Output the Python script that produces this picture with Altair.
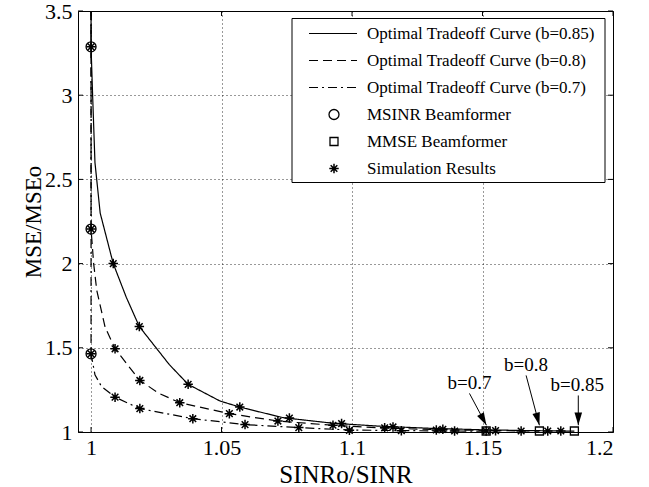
import math
import altair as alt
import pandas as pd

# ---------------- data ----------------
# Optimal tradeoff curves
c085_x = [1.0, 1.0, 1.0006, 1.0015, 1.0035, 1.0085, 1.0135, 1.0185, 1.030, 1.0372, 1.0494, 1.057,
          1.0736, 1.0927, 1.11, 1.13, 1.15, 1.17, 1.1852]
c085_y = [3.5, 3.287, 3.0, 2.6, 2.3, 2.0, 1.8, 1.626, 1.40, 1.283, 1.184, 1.148,
          1.085, 1.052, 1.035, 1.022, 1.013, 1.008, 1.005]
c080_x = [1.0, 1.0, 1.001, 1.0022, 1.0054, 1.0092, 1.0187, 1.026, 1.034, 1.053, 1.0716, 1.0927,
          1.11, 1.13, 1.15, 1.1718]
c080_y = [3.5, 2.205, 2.0, 1.84, 1.622, 1.494, 1.306, 1.23, 1.174, 1.109, 1.065, 1.04,
          1.025, 1.015, 1.01, 1.005]
c070_x = [1.0, 1.0, 1.0015, 1.004, 1.0092, 1.0187, 1.039, 1.059, 1.0796, 1.099, 1.12, 1.1514]
c070_y = [3.5, 1.464, 1.34, 1.27, 1.207, 1.139, 1.079, 1.044, 1.026, 1.012, 1.008, 1.005]

curve_names = ["Optimal Tradeoff Curve (b=0.85)",
               "Optimal Tradeoff Curve (b=0.8)",
               "Optimal Tradeoff Curve (b=0.7)"]

# MSINR beamformer points
msinr_x = [1.0, 1.0, 1.0]
msinr_y = [3.287, 2.205, 1.464]
# MMSE beamformer points
mmse_x = [1.1514, 1.1718, 1.1852]
mmse_y = [1.006, 1.006, 1.006]
# Simulation results
sim_x = [1.0, 1.0, 1.0,
         1.0085, 1.0185, 1.0372, 1.057, 1.076, 1.096,
         1.0092, 1.0187, 1.034, 1.053, 1.0716, 1.0927,
         1.0092, 1.0187, 1.039, 1.059, 1.0796, 1.099,
         1.1125, 1.1157, 1.1189, 1.1323, 1.1348, 1.1393, 1.1514, 1.155, 1.1648, 1.175, 1.180]
sim_y = [3.287, 2.205, 1.464,
         2.0, 1.626, 1.283, 1.148, 1.083, 1.05,
         1.494, 1.306, 1.174, 1.109, 1.065, 1.04,
         1.207, 1.139, 1.079, 1.044, 1.026, 1.01,
         1.025, 1.03, 1.008, 1.012, 1.016, 1.006, 1.006, 1.008, 1.006, 1.006, 1.006]

# annotations
ann_text = ["b=0.7", "b=0.8", "b=0.85"]
ann_tx = [1.145, 1.1667, 1.1863]
ann_ty = [1.29, 1.40, 1.277]
arr_x1 = [1.145, 1.1667, 1.1867]
arr_y1 = [1.229, 1.336, 1.217]
arr_x2 = [1.1515, 1.1718, 1.1867]
arr_y2 = [1.04, 1.04, 1.04]

x_ticks = [1.0, 1.05, 1.1, 1.15, 1.2]
y_ticks = [1.0, 1.5, 2.0, 2.5, 3.0, 3.5]

legend_labels = curve_names + ["MSINR Beamformer", "MMSE Beamformer", "Simulation Results"]

# ---------------- layout / style ----------------
W, H = 535, 421
XMIN, XMAX = 0.995, 1.2
YMIN, YMAX = 1.0, 3.5
FONT = "Liberation Serif"
STAR = "M-1,0L1,0M0,-1L0,1M-0.7,-0.7L0.7,0.7M-0.7,0.7L0.7,-0.7"
ARROW = "M0,0L-0.3,-1L0.3,-1Z"
dash_range = [[1, 0], [9, 5], [9, 4, 2, 4]]

xs = alt.Scale(domain=[XMIN, XMAX], nice=False, zero=False)
ys = alt.Scale(domain=[YMIN, YMAX], nice=False, zero=False)
dash_scale = alt.Scale(domain=curve_names, range=dash_range)

rows = []
for name, cx, cy in zip(curve_names, [c085_x, c080_x, c070_x], [c085_y, c080_y, c070_y]):
    for i, (a, b) in enumerate(zip(cx, cy)):
        rows.append({"curve": name, "x": a, "y": b, "o": i})
curves_df = pd.DataFrame(rows)

X = alt.X("x:Q", scale=xs,
          axis=alt.Axis(values=x_ticks, format="~g", title="SINRo/SINR", grid=True,
                        ticks=False, domain=False, labelPadding=5, titleFontSize=25,
                        titleX=W / 2, titleY=50, titleBaseline="alphabetic", titleAlign="center"))
Y = alt.Y("y:Q", scale=ys,
          axis=alt.Axis(values=y_ticks, format="~g", title="MSE/MSEo", grid=True,
                        ticks=False, domain=False, labelPadding=6, titleFontSize=23,
                        titleX=-45, titleY=H / 2, titleAngle=-90, titleAlign="center",
                        titleBaseline="middle"))

curves = alt.Chart(curves_df).mark_line(color="black", strokeWidth=1.2, clip=True).encode(
    x=X, y=Y,
    strokeDash=alt.StrokeDash("curve:N", scale=dash_scale, legend=None),
    order="o:Q",
)

msinr = alt.Chart(pd.DataFrame({"x": msinr_x, "y": msinr_y})).mark_point(
    shape="circle", size=100, filled=False, color="black", strokeWidth=1.3, opacity=1
).encode(x=alt.X("x:Q", scale=xs), y=alt.Y("y:Q", scale=ys))

mmse = alt.Chart(pd.DataFrame({"x": mmse_x, "y": mmse_y})).mark_point(
    shape="square", size=64, filled=False, color="black", strokeWidth=1.3, opacity=1
).encode(x=alt.X("x:Q", scale=xs), y=alt.Y("y:Q", scale=ys))

sim = alt.Chart(pd.DataFrame({"x": sim_x, "y": sim_y})).mark_point(
    shape=STAR, size=90, filled=False, color="black", strokeWidth=1.5, opacity=1
).encode(x=alt.X("x:Q", scale=xs), y=alt.Y("y:Q", scale=ys))

# annotations
sx = W / (XMAX - XMIN)
sy = H / (YMAX - YMIN)
angles = []
for a1, b1, a2, b2 in zip(arr_x1, arr_y1, arr_x2, arr_y2):
    dx = (a2 - a1) * sx
    dy = -(b2 - b1) * sy
    angles.append(math.degrees(math.atan2(-dx, dy)) % 360)
ann_df = pd.DataFrame({"t": ann_text, "tx": ann_tx, "ty": ann_ty,
                       "x1": arr_x1, "y1": arr_y1, "x2": arr_x2, "y2": arr_y2, "ang": angles})

ann_text_layer = alt.Chart(ann_df).mark_text(
    font=FONT, fontSize=19, color="black", align="center", baseline="middle"
).encode(x=alt.X("tx:Q", scale=xs), y=alt.Y("ty:Q", scale=ys), text="t:N")

ann_rule = alt.Chart(ann_df).mark_rule(color="black", strokeWidth=1).encode(
    x=alt.X("x1:Q", scale=xs), y=alt.Y("y1:Q", scale=ys), x2="x2:Q", y2="y2:Q")

ann_head = alt.Chart(ann_df).mark_point(
    shape=ARROW, size=640, filled=True, fill="black", strokeWidth=0, opacity=1
).encode(x=alt.X("x2:Q", scale=xs), y=alt.Y("y2:Q", scale=ys),
         angle=alt.Angle("ang:Q", scale=None))

# inward tick marks on all four sides
xt = pd.DataFrame({"v": x_ticks})
yt = pd.DataFrame({"v": y_ticks})
tick_b = alt.Chart(xt).mark_rule(color="black").encode(
    x=alt.X("v:Q", scale=xs), y=alt.value(H), y2=alt.value(H - 5))
tick_t = alt.Chart(xt).mark_rule(color="black").encode(
    x=alt.X("v:Q", scale=xs), y=alt.value(0), y2=alt.value(5))
tick_l = alt.Chart(yt).mark_rule(color="black").encode(
    y=alt.Y("v:Q", scale=ys), x=alt.value(0), x2=alt.value(5))
tick_r = alt.Chart(yt).mark_rule(color="black").encode(
    y=alt.Y("v:Q", scale=ys), x=alt.value(W - 5), x2=alt.value(W))

# manual legend
LX0, LX1, LY0, LY1 = 214, 527, 7.5, 171.5
ROW0, ROWH = 22.5, 27
SYM_X0, SYM_X1, SYM_XC, TXT_X = 231, 279, 256, 289
leg_box = alt.Chart(pd.DataFrame({"a": [0]})).mark_rect(
    fill="white", stroke="black", strokeWidth=1
).encode(x=alt.value(LX0), x2=alt.value(LX1), y=alt.value(LY0), y2=alt.value(LY1))

leg_df = pd.DataFrame({"label": legend_labels,
                       "py": [ROW0 + i * ROWH for i in range(len(legend_labels))]})
leg_df["x0"] = SYM_X0
leg_df["x1"] = SYM_X1
leg_df["xc"] = SYM_XC
leg_df["tx"] = TXT_X

leg_text = alt.Chart(leg_df).mark_text(
    font=FONT, fontSize=17, color="black", align="left", baseline="middle"
).encode(x=alt.X("tx:Q", scale=None), y=alt.Y("py:Q", scale=None), text="label:N")

leg_lines = alt.Chart(leg_df.iloc[:3]).mark_rule(color="black", strokeWidth=1.2).encode(
    x=alt.X("x0:Q", scale=None), x2="x1:Q", y=alt.Y("py:Q", scale=None),
    strokeDash=alt.StrokeDash("label:N", scale=dash_scale, legend=None))

leg_circ = alt.Chart(leg_df.iloc[3:4]).mark_point(
    shape="circle", size=100, filled=False, color="black", strokeWidth=1.3, opacity=1
).encode(x=alt.X("xc:Q", scale=None), y=alt.Y("py:Q", scale=None))
leg_sq = alt.Chart(leg_df.iloc[4:5]).mark_point(
    shape="square", size=64, filled=False, color="black", strokeWidth=1.3, opacity=1
).encode(x=alt.X("xc:Q", scale=None), y=alt.Y("py:Q", scale=None))
leg_star = alt.Chart(leg_df.iloc[5:6]).mark_point(
    shape=STAR, size=90, filled=False, color="black", strokeWidth=1.5, opacity=1
).encode(x=alt.X("xc:Q", scale=None), y=alt.Y("py:Q", scale=None))

chart = alt.layer(
    curves, msinr, mmse, sim, ann_rule, ann_head, ann_text_layer,
    tick_b, tick_t, tick_l, tick_r,
    leg_box, leg_lines, leg_circ, leg_sq, leg_star, leg_text,
).properties(
    width=W, height=H,
    autosize=alt.AutoSizeParams(type="none"),
    padding={"left": 78, "top": 11, "right": 36, "bottom": 55},
    background="white",
).configure_view(
    stroke="black", strokeWidth=1
).configure_axis(
    labelFont=FONT, labelFontSize=22, labelColor="black",
    titleFont=FONT, titleColor="black", titleFontWeight="normal",
    gridColor="black", gridDash=[1, 3], gridOpacity=0.8, gridWidth=1,
)

chart.save("out.html", embed_options={"renderer": "svg", "actions": False})
